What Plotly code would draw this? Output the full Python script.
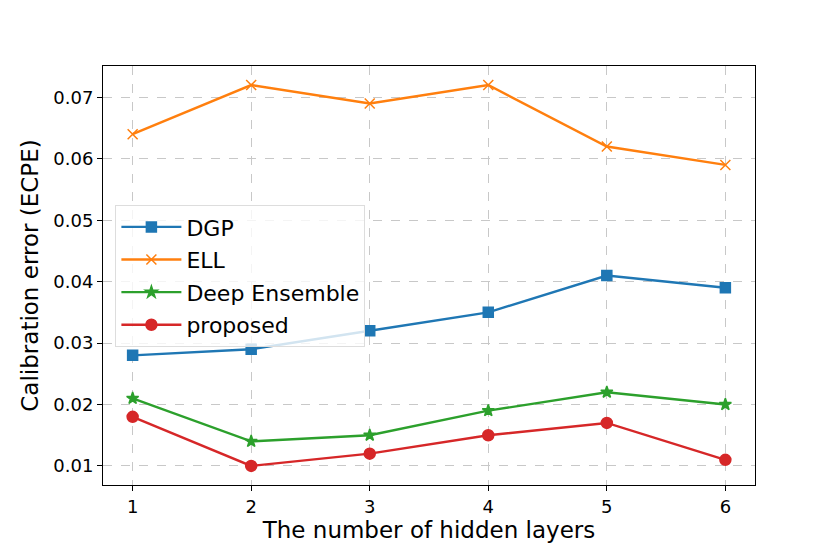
import plotly.graph_objects as go

layers = [1, 2, 3, 4, 5, 6]
dgp = [0.028, 0.029, 0.032, 0.035, 0.041, 0.039]
ell = [0.064, 0.072, 0.069, 0.072, 0.062, 0.059]
deep_ensemble = [0.021, 0.014, 0.015, 0.019, 0.022, 0.020]
proposed = [0.018, 0.010, 0.012, 0.015, 0.017, 0.011]

series = [
    ("DGP", dgp, "#1f77b4", "square", 10),
    ("ELL", ell, "#ff7f0e", "x-thin", 10),
    ("Deep Ensemble", deep_ensemble, "#2ca02c", "star", 9),
    ("proposed", proposed, "#d62728", "circle", 11),
]

fig = go.Figure()
for name, vals, col, sym, sz in series:
    fig.add_trace(go.Scatter(
        x=layers, y=vals, name=name, legendgroup=name, mode="lines+markers",
        line=dict(color=col, width=2.4),
        marker=dict(symbol=sym, size=sz, color=col,
                    line=dict(color=col, width=1.5)),
    ))

axis_common = dict(
    showline=True, linecolor="black", linewidth=1, mirror=True,
    ticks="outside", ticklen=5, tickcolor="black",
    showgrid=True, gridcolor="#c8c8c8", griddash="dash", gridwidth=1,
    zeroline=False, tickfont=dict(size=18, color="black"),
)

# the page has an 8px body margin, so the figure is drawn a bit smaller
fig.update_layout(
    width=822, height=546,
    margin=dict(l=95, r=75, t=58, b=69),
    paper_bgcolor="white", plot_bgcolor="white",
    font=dict(family="DejaVu Sans", color="black"),
    xaxis=dict(range=[0.75, 6.25], tickvals=layers,
               title=dict(text="The number of hidden layers", font=dict(size=23), standoff=5),
               **axis_common),
    yaxis=dict(range=[0.0069, 0.0751], tickvals=[0.01, 0.02, 0.03, 0.04, 0.05, 0.06, 0.07],
               tickformat=".2f",
               title=dict(text="Calibration error (ECPE)", font=dict(size=23), standoff=8),
               **axis_common),
    legend=dict(x=0.019, y=0.668, xanchor="left", yanchor="top",
                bgcolor="rgba(255,255,255,0.8)", bordercolor="#dddddd", borderwidth=1,
                font=dict(size=22), tracegroupgap=1, itemwidth=60),
    showlegend=True,
)

fig.write_html("out.html")
